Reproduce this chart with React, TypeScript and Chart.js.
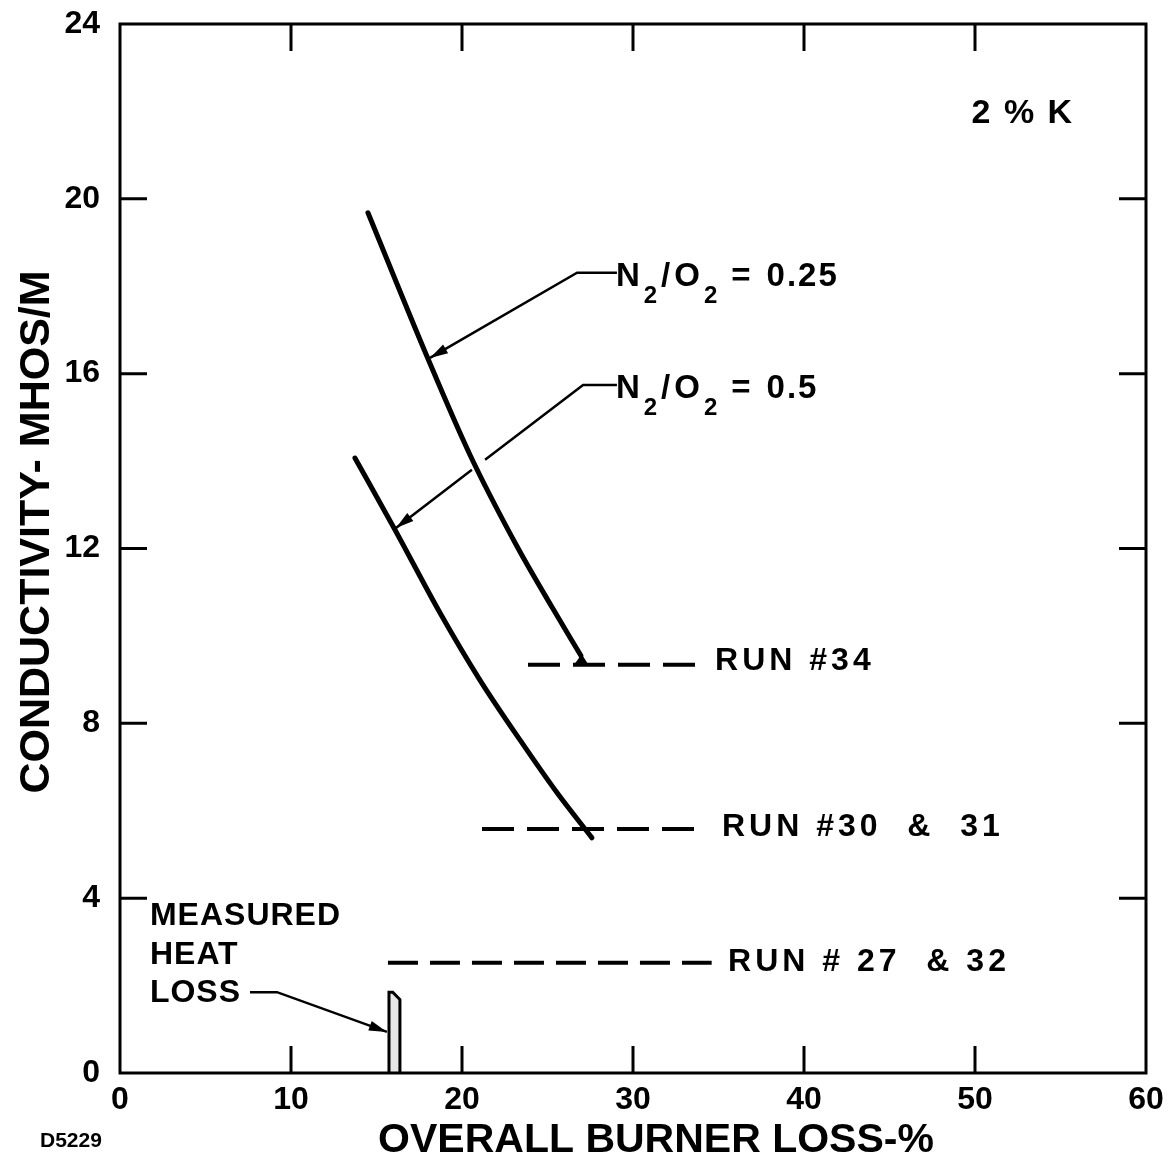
import React, { useEffect, useRef } from 'react';
import { Chart, registerables } from 'chart.js';

Chart.register(...registerables);

// ---- data ----
const X_TICKS = [0, 10, 20, 30, 40, 50, 60];
const Y_TICKS = [0, 4, 8, 12, 16, 20, 24];

const CURVE_025_X = [14.5, 18.01, 20.47, 23.27, 25.26, 26.95];
const CURVE_025_Y = [19.68, 16.34, 14.14, 12.01, 10.66, 9.55];

const CURVE_05_X = [13.74, 16.08, 18.71, 21.05, 23.39, 25.56, 27.6];
const CURVE_05_Y = [14.07, 12.43, 10.53, 8.99, 7.62, 6.41, 5.38];

const RUN_34_X = [23.86, 33.63];
const RUN_34_Y = 9.34;
const RUN_3031_X = [21.17, 34.2];
const RUN_3031_Y = 5.58;
const RUN_2732_X = [15.67, 34.6];
const RUN_2732_Y = 2.52;

const HEAT_BAR_X = [15.73, 15.73, 15.95, 16.37, 16.37];
const HEAT_BAR_Y = [0, 1.85, 1.85, 1.68, 0];

const LEADER_025_X = [29.06, 26.73, 18.13];
const LEADER_025_Y = [18.31, 18.31, 16.36];
const LEADER_05_X = [29.06, 27.08, 21.35, 21.0, 20.58, 16.14];
const LEADER_05_Y = [15.74, 15.74, 14.03, null, 13.8, 12.47];
const LEADER_HEAT_X = [7.6, 9.18, 15.61];
const LEADER_HEAT_Y = [1.85, 1.85, 0.94];

const RUN_LABELS = ['RUN #34', 'RUN #30  &  31', 'RUN # 27  & 32'];
const HEAT_LABEL = ['MEASURED', 'HEAT', 'LOSS'];
const POTASSIUM_LABEL = '2 % K';
const RATIO_VALUES = ['0.25', '0.5'];
const X_TITLE = 'OVERALL BURNER LOSS-%';
const Y_TITLE = 'CONDUCTIVITY- MHOS/M';
const FIG_ID = 'D5229';

const FONT = '"Liberation Sans", Arial, sans-serif';

const pts = (xs: (number | null)[], ys: (number | null)[]) =>
  xs.map((x, i) => ({ x: x as number, y: ys[i] as number }));

const lineDs = (data: any[], extra: any = {}) => ({
  data,
  showLine: true,
  borderColor: '#000',
  backgroundColor: '#000',
  pointRadius: 0,
  pointHoverRadius: 0,
  fill: false,
  spanGaps: false,
  ...extra,
});

function drawArrow(ctx: CanvasRenderingContext2D, x0: number, y0: number, x1: number, y1: number) {
  const a = Math.atan2(y1 - y0, x1 - x0);
  const len = 18;
  const half = 5;
  ctx.beginPath();
  ctx.moveTo(x1, y1);
  ctx.lineTo(x1 - len * Math.cos(a) + half * Math.sin(a), y1 - len * Math.sin(a) - half * Math.cos(a));
  ctx.lineTo(x1 - len * Math.cos(a) - half * Math.sin(a), y1 - len * Math.sin(a) + half * Math.cos(a));
  ctx.closePath();
  ctx.fill();
}

const overlayPlugin = {
  id: 'overlay',
  afterDatasetsDraw(chart: any) {
    const { ctx, chartArea: ca, scales } = chart;
    const xs = scales.x;
    const ys = scales.y;
    const px = (v: number) => xs.getPixelForValue(v);
    const py = (v: number) => ys.getPixelForValue(v);
    ctx.save();
    ctx.strokeStyle = '#000';
    ctx.fillStyle = '#000';
    // frame
    ctx.lineWidth = 3;
    ctx.strokeRect(ca.left, ca.top, ca.right - ca.left, ca.bottom - ca.top);
    // inward ticks
    const tl = 27;
    ctx.lineWidth = 3;
    ctx.beginPath();
    X_TICKS.slice(1, -1).forEach((v) => {
      const x = px(v);
      ctx.moveTo(x, ca.bottom);
      ctx.lineTo(x, ca.bottom - tl);
      ctx.moveTo(x, ca.top);
      ctx.lineTo(x, ca.top + tl);
    });
    Y_TICKS.slice(1, -1).forEach((v) => {
      const y = py(v);
      ctx.moveTo(ca.left, y);
      ctx.lineTo(ca.left + tl, y);
      ctx.moveTo(ca.right, y);
      ctx.lineTo(ca.right - tl, y);
    });
    ctx.stroke();

    // foot at the end of the 0.25 curve
    ctx.lineWidth = 4;
    ctx.beginPath();
    ctx.moveTo(px(26.95), py(9.55));
    ctx.lineTo(px(27.05), py(RUN_34_Y));
    ctx.stroke();
    ctx.beginPath();
    ctx.moveTo(px(26.55), py(RUN_34_Y));
    ctx.lineTo(px(27.0), py(9.58));
    ctx.lineTo(px(27.4), py(RUN_34_Y));
    ctx.closePath();
    ctx.fill();

    // arrowheads
    const arrowAt = (X: (number | null)[], Y: (number | null)[]) => {
      const n = X.length;
      drawArrow(ctx, px(X[n - 2] as number), py(Y[n - 2] as number), px(X[n - 1] as number), py(Y[n - 1] as number));
    };
    arrowAt(LEADER_025_X, LEADER_025_Y);
    arrowAt(LEADER_05_X, LEADER_05_Y);
    arrowAt(LEADER_HEAT_X, LEADER_HEAT_Y);

    // texts
    ctx.textBaseline = 'middle';
    ctx.textAlign = 'left';
    ctx.font = `bold 34px ${FONT}`;
    (ctx as any).letterSpacing = '2px';
    ctx.fillText(POTASSIUM_LABEL, px(49.8), py(21.95));

    const drawRatio = (val: string, x: number, baseline: number) => {
      ctx.textBaseline = 'alphabetic';
      let cx = x;
      const segs: [string, boolean, number][] = [
        ['N', false, 2], ['2', true, 2], ['/', false, 2], ['O', false, 2], ['2', true, 12],
        ['=', false, 14], [val, false, 0],
      ];
      segs.forEach(([t, sub, gap]) => {
        ctx.font = sub ? `bold 24px ${FONT}` : `bold 33px ${FONT}`;
        ctx.fillText(t, cx, sub ? baseline + 17 : baseline);
        cx += ctx.measureText(t).width + gap;
      });
    };
    (ctx as any).letterSpacing = '2px';
    drawRatio(RATIO_VALUES[0], px(29.0), py(18.0));
    drawRatio(RATIO_VALUES[1], px(29.0), py(15.45));

    ctx.textBaseline = 'middle';
    ctx.font = `bold 32px ${FONT}`;
    (ctx as any).letterSpacing = '4px';
    ctx.fillText(RUN_LABELS[0], px(34.8), py(9.43));
    ctx.fillText(RUN_LABELS[1], px(35.2), py(5.62));
    ctx.fillText(RUN_LABELS[2], px(35.56), py(2.54));

    (ctx as any).letterSpacing = '1px';
    ctx.font = `bold 32px ${FONT}`;
    ctx.fillText(HEAT_LABEL[0], px(1.75), py(3.59));
    ctx.fillText(HEAT_LABEL[1], px(1.75), py(2.7));
    ctx.fillText(HEAT_LABEL[2], px(1.75), py(1.83));
    (ctx as any).letterSpacing = '0px';

    ctx.font = `bold 21px ${FONT}`;
    ctx.fillText(FIG_ID, 40, 1141);

    // axis titles
    ctx.textAlign = 'center';
    ctx.font = `bold 41px ${FONT}`;
    ctx.fillText(X_TITLE, 656, 1141);
    ctx.translate(37, 532);
    ctx.rotate(-Math.PI / 2);
    ctx.font = `bold 43px ${FONT}`;
    ctx.fillText(Y_TITLE, 0, 0);
    ctx.restore();
  },
};

export default function App() {
  const ref = useRef<HTMLCanvasElement | null>(null);
  useEffect(() => {
    if (!ref.current) return;
    Chart.defaults.color = '#000';
    const curveStyle = { borderWidth: 5, cubicInterpolationMode: 'monotone', borderCapStyle: 'round', borderJoinStyle: 'round' };
    const dashStyle = { borderWidth: 4, borderDash: [32, 13] };
    const dashStyleLong = { borderWidth: 4, borderDash: [30, 12] };
    const chart = new Chart(ref.current, {
      type: 'scatter',
      data: {
        datasets: [
          lineDs(pts(HEAT_BAR_X, HEAT_BAR_Y), { borderWidth: 3, fill: 'origin', backgroundColor: '#e6e6e6', tension: 0 }),
          lineDs(pts(RUN_34_X, [RUN_34_Y, RUN_34_Y]), dashStyle),
          lineDs(pts(RUN_3031_X, [RUN_3031_Y, RUN_3031_Y]), dashStyle),
          lineDs(pts(RUN_2732_X, [RUN_2732_Y, RUN_2732_Y]), dashStyleLong),
          lineDs(pts(LEADER_025_X, LEADER_025_Y), { borderWidth: 2.5 }),
          lineDs(pts(LEADER_05_X, LEADER_05_Y), { borderWidth: 2.5 }),
          lineDs(pts(LEADER_HEAT_X, LEADER_HEAT_Y), { borderWidth: 2.5 }),
          lineDs(pts(CURVE_025_X, CURVE_025_Y), curveStyle),
          lineDs(pts(CURVE_05_X, CURVE_05_Y), curveStyle),
        ],
      },
      options: {
        responsive: false,
        animation: false,
        events: [],
        layout: { padding: { top: 24, right: 27, left: 0, bottom: 0 } },
        plugins: { legend: { display: false }, tooltip: { enabled: false }, title: { display: false } },
        scales: {
          x: {
            type: 'linear',
            min: 0,
            max: 60,
            afterBuildTicks: (s: any) => { s.ticks = X_TICKS.map((v) => ({ value: v })); },
            afterFit: (s: any) => { s.height = 91; s.paddingLeft = 0; s.paddingRight = 0; },
            grid: { display: false, drawTicks: false },
            border: { display: false },
            ticks: { font: { family: FONT, size: 32, weight: 'bold' }, color: '#000', padding: 8, maxRotation: 0 },
            title: { display: false },
          },
          y: {
            type: 'linear',
            min: 0,
            max: 24,
            afterBuildTicks: (s: any) => { s.ticks = Y_TICKS.map((v) => ({ value: v })); },
            afterFit: (s: any) => { s.width = 120; s.paddingTop = 0; s.paddingBottom = 0; },
            grid: { display: false, drawTicks: false },
            border: { display: false },
            ticks: { font: { family: FONT, size: 32, weight: 'bold' }, color: '#000', padding: 20 },
            title: { display: false },
          },
        },
      },
      plugins: [overlayPlugin],
    } as any);
    return () => chart.destroy();
  }, []);
  return (
    <div style={{ position: 'absolute', left: 0, top: 0, width: 1173, height: 1164, background: '#fff' }}>
      <canvas ref={ref} width={1173} height={1164} style={{ display: 'block' }} />
    </div>
  );
}
